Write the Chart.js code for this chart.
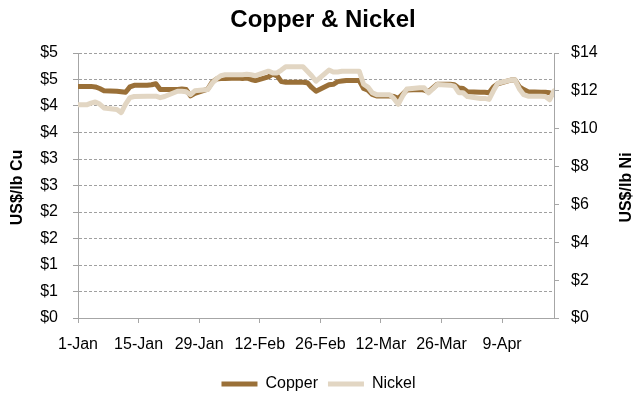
<!DOCTYPE html>
<html>
<head>
<meta charset="utf-8">
<script src="https://cdn.jsdelivr.net/npm/chart.js@4"></script>
<style>
  body { margin: 0; background: #fff; }
</style>
</head>
<body>
<canvas id="chart" width="637" height="396"></canvas>
<script>
// days since 1-Jan (trading days, 2011)
const days = [0, 2, 3, 4, 5, 6, 9, 10, 11, 12, 13, 16, 17, 18, 19, 20, 23, 24, 25, 26, 27,
  30, 31, 32, 33, 34, 37, 38, 39, 40, 41, 44, 45, 46, 47, 48, 51, 52, 53, 54, 55,
  58, 59, 60, 61, 62, 65, 66, 67, 68, 69, 72, 73, 74, 75, 76, 79, 80, 81, 82, 83,
  86, 87, 88, 89, 90, 93, 94, 95, 96, 97, 100, 101, 102, 103, 104, 107, 108, 109, 110];

const copper = [4.37, 4.37, 4.37, 4.36, 4.33, 4.29, 4.28, 4.27, 4.26, 4.36, 4.39, 4.39, 4.40, 4.42, 4.31, 4.31, 4.31, 4.32, 4.31, 4.19, 4.24,
  4.32, 4.45, 4.51, 4.52, 4.52, 4.53, 4.52, 4.53, 4.50, 4.48, 4.55, 4.60, 4.57, 4.46, 4.45, 4.45, 4.45, 4.44, 4.35, 4.28,
  4.40, 4.41, 4.46, 4.47, 4.48, 4.48, 4.33, 4.30, 4.22, 4.19, 4.19, 4.18, 4.14, 4.22, 4.30, 4.31, 4.30, 4.27, 4.34, 4.41,
  4.41, 4.40, 4.34, 4.33, 4.27, 4.26, 4.26, 4.25, 4.36, 4.42, 4.49, 4.49, 4.36, 4.31, 4.27, 4.26, 4.26, 4.25, 4.22];

const nickel = [11.26, 11.26, 11.35, 11.41, 11.30, 11.10, 11.02, 10.85, 11.30, 11.64, 11.70, 11.72, 11.72, 11.72, 11.64, 11.70, 11.98, 11.98, 11.95, 11.80, 12.00,
  12.07, 12.40, 12.64, 12.80, 12.85, 12.85, 12.85, 12.88, 12.85, 12.80, 13.04, 12.95, 12.95, 13.10, 13.27, 13.27, 13.27, 13.04, 12.80, 12.51,
  13.10, 13.00, 13.00, 13.04, 13.04, 13.04, 12.35, 12.20, 11.90, 11.80, 11.80, 11.60, 11.29, 11.72, 12.10, 12.16, 12.16, 11.90, 12.10, 12.34,
  12.30, 12.25, 11.90, 11.90, 11.70, 11.60, 11.60, 11.55, 12.00, 12.40, 12.57, 12.57, 12.10, 11.80, 11.72, 11.72, 11.70, 11.53, 12.00];

const tickLabels = ['1-Jan', '15-Jan', '29-Jan', '12-Feb', '26-Feb', '12-Mar', '26-Mar', '9-Apr'];

const axisGrey = '#a6a6a6';
const fontFamily = '"Liberation Sans", Arial, sans-serif';

// title and the two axis titles, both read bottom-to-top like the original
const titlesPlugin = {
    id: 'titles',
    afterDraw(chart) {
        const ctx = chart.ctx;
        const area = chart.chartArea;
        const midY = (area.top + area.bottom) / 2 + 2;
        ctx.save();
        ctx.fillStyle = '#000';
        ctx.textAlign = 'center';
        ctx.textBaseline = 'middle';
        ctx.font = 'bold 24px ' + fontFamily;
        ctx.fillText('Copper & Nickel', 323, 20);
        ctx.font = 'bold 16px ' + fontFamily;
        ctx.save();
        ctx.translate(18, midY);
        ctx.rotate(-Math.PI / 2);
        ctx.fillText('US$/lb Cu', 0, 0);
        ctx.restore();
        ctx.save();
        ctx.translate(627, midY);
        ctx.rotate(-Math.PI / 2);
        ctx.fillText('US$/lb Ni', 0, 0);
        ctx.restore();
        ctx.restore();
    }
};

new Chart(document.getElementById('chart').getContext('2d'), {
    type: 'line',
    data: {
        datasets: [{
            label: 'Copper',
            data: days.map((d, i) => ({x: d, y: copper[i]})),
            borderColor: '#9a7038',
            backgroundColor: '#9a7038',
            borderWidth: 5,
            pointRadius: 0,
            borderCapStyle: 'round',
            borderJoinStyle: 'round',
            yAxisID: 'y',
            order: 1
        },
        {
            label: 'Nickel',
            data: days.map((d, i) => ({x: d, y: nickel[i]})),
            borderColor: '#e2d6c3',
            backgroundColor: '#e2d6c3',
            borderWidth: 5,
            pointRadius: 0,
            borderCapStyle: 'round',
            borderJoinStyle: 'round',
            yAxisID: 'y1',
            order: 0
        }]
    },
    options: {
        responsive: false,
        animation: false,
        // negative bottom padding pushes the legend a little lower
        layout: { padding: { top: 53, left: 0, right: 0, bottom: -6 } },
        font: { family: fontFamily, size: 16 },
        plugins: {
            title: { display: false },
            tooltip: { enabled: false },
            legend: {
                position: 'bottom',
                labels: {
                    color: '#000',
                    font: { family: fontFamily, size: 16 },
                    usePointStyle: true,
                    pointStyleWidth: 36,
                    pointStyle: 'line',
                    padding: 10,
                    sort: (a, b) => a.datasetIndex - b.datasetIndex
                }
            }
        },
        scales: {
            x: {
                type: 'linear',
                min: 0,
                max: 110,
                ticks: {
                    stepSize: 14,
                    includeBounds: false,
                    autoSkip: false,
                    maxRotation: 0,
                    padding: 12,
                    color: '#000',
                    font: { family: fontFamily, size: 16 },
                    callback: (v) => tickLabels[v / 14] || ''
                },
                grid: { drawOnChartArea: false, drawTicks: true, tickLength: 5, color: axisGrey },
                border: { color: axisGrey, width: 1 },
                afterFit: (s) => { s.height = 48; }
            },
            y: {
                position: 'left',
                min: 0,
                max: 5,
                ticks: {
                    stepSize: 0.5,
                    padding: 15,
                    color: '#000',
                    font: { family: fontFamily, size: 16 },
                    callback: (v) => '$' + Math.round(v)
                },
                grid: { color: '#a0a0a0', tickLength: 5 },
                border: { color: axisGrey, width: 1, dash: [3, 2] },
                afterFit: (s) => { s.width = 78; }
            },
            y1: {
                position: 'right',
                min: 0,
                max: 14,
                ticks: {
                    stepSize: 2,
                    padding: 12,
                    color: '#000',
                    font: { family: fontFamily, size: 16 },
                    callback: (v) => '$' + v
                },
                grid: { drawOnChartArea: false, tickLength: 5, color: axisGrey },
                border: { color: axisGrey, width: 1 },
                afterFit: (s) => { s.width = 83; }
            }
        }
    },
    plugins: [titlesPlugin]
});
</script>
</body>
</html>
